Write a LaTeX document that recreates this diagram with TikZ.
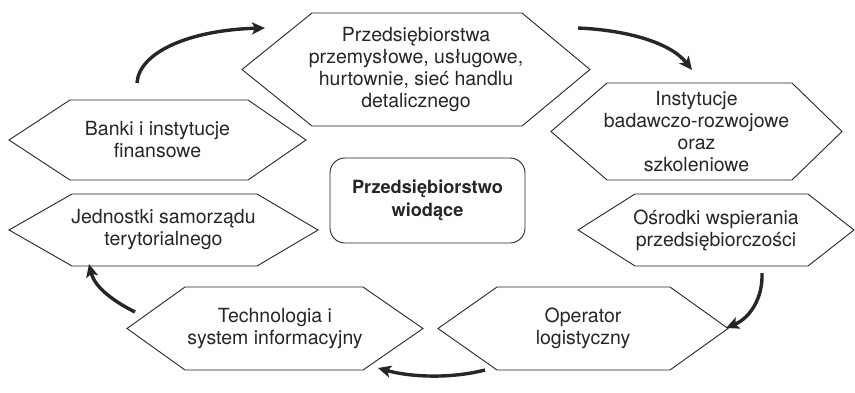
\documentclass[tikz,border=0pt]{standalone}
\usepackage{fontspec}
\setmainfont{TeX Gyre Heros}
\usetikzlibrary{arrows.meta}
\tikzset{
  hexline/.style={draw=black!85, line width=0.9pt, line join=miter},
  hextext/.style={align=center, inner sep=0pt, font=\fontsize{19.5}{22}\selectfont, text=black!85},
  cyclearrow/.style={line width=3.4pt, draw=black!85, -{Stealth[length=13pt,width=12pt,inset=3pt]}},
  centerbox/.style={draw=black!85, line width=0.9pt, rounded corners=15pt, align=center,
     font=\fontsize{18.2}{22.5}\selectfont\bfseries, text=black!85, inner sep=0pt}
}
\newcommand{\hexshape}[8]{%
  \draw[hexline] (#2,{(#6+#7)/2}) -- (#3,#6) -- (#4,#6) -- (#5,{(#6+#7)/2}) -- (#4,#7) -- (#3,#7) -- cycle;
  \node[hextext] (#1) at ({(#2+#5)/2},{(#6+#7)/2}) {#8};
}
\begin{document}
\begin{tikzpicture}[x=1pt,y=-1pt]
\useasboundingbox (0,0) rectangle (855,392);
\hexshape{prz}{242}{312}{522}{590}{13}{126}{Przedsiębiorstwa\\przemysłowe, usługowe,\\hurtownie, sieć handlu\\detalicznego}
\hexshape{inst}{551}{607}{792}{842}{83}{180}{Instytucje\\badawczo-rozwojowe\\oraz\\szkoleniowe}
\hexshape{banki}{9}{70}{248}{306}{100}{180}{Banki i instytucje\\finansowe}
\hexshape{osr}{578}{635}{808}{854}{194}{266}{Ośrodki wspierania\\przedsiębiorczości}
\hexshape{jedn}{9}{72}{257}{318}{194}{266}{Jednostki samorządu\\terytorialnego}
\hexshape{tech}{127}{185}{363}{423}{287}{370}{Technologia i\\system informacyjny}
\hexshape{oper}{438}{497}{670}{728}{287}{370}{Operator\\logistyczny}
\draw[centerbox] (330,158) rectangle (525,243);
\node[centerbox, draw=none] (lead) at (427.5,200.5) {Przedsiębiorstwo\\wiodące};
% arrow end points
\coordinate (a1s) at (137,83);
\coordinate (a1e) at (265,28);
\coordinate (a2s) at (578,28);
\coordinate (a2e) at (692,70);
\coordinate (a3s) at (762,273);
\coordinate (a3e) at (726,328);
\coordinate (a4s) at (485,370);
\coordinate (a4e) at (378,368);
\coordinate (a5s) at (135,312);
\coordinate (a5e) at (89,264);
\draw[cyclearrow] (a1s) .. controls (139,52) and (190,30) .. (a1e);
\draw[cyclearrow] (a2s) .. controls (625,30) and (670,42) .. (a2e);
\draw[cyclearrow] (a3s) .. controls (763,298) and (750,318) .. (a3e);
\draw[cyclearrow] (a4s) .. controls (450,379) and (410,377) .. (a4e);
\draw[cyclearrow] (a5s) .. controls (115,302) and (95,288) .. (a5e);
\end{tikzpicture}
\end{document}
